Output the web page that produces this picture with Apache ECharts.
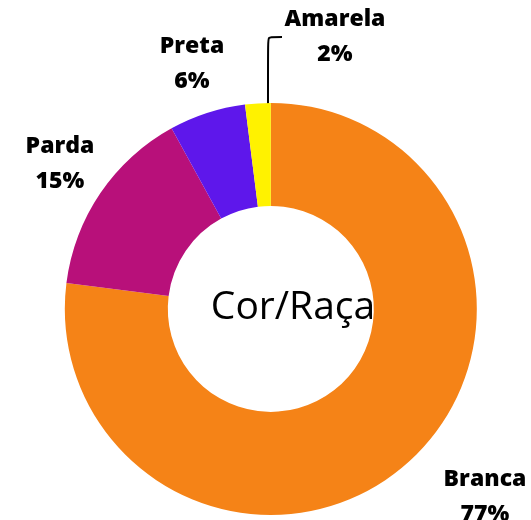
<!DOCTYPE html>
<html>
<head>
<meta charset="utf-8">
<script src="https://cdn.jsdelivr.net/npm/echarts@6/dist/echarts.min.js"></script>
<style>
  html, body { margin: 0; padding: 0; background: #fff; }
  #chart { width: 531px; height: 520px; }
</style>
</head>
<body>
<div id="chart"></div>
<script>
const categories = ['Branca', 'Parda', 'Preta', 'Amarela'];
const values = [77, 15, 6, 2];
const colors = ['#f58317', '#b8107a', '#5e17eb', '#fff200'];

// posição dos rótulos (centro do bloco de texto)
const labelPos = [
  [485, 497],
  [60, 164],
  [192, 64],
  [335, 37]
];

const chart = echarts.init(document.getElementById('chart'));

const data = categories.map((name, i) => ({
  name,
  value: values[i],
  itemStyle: { color: colors[i] },
  labelLine: { show: i === 3 }
}));

chart.setOption({
  animation: false,
  title: {
    text: 'Cor/Raça',
    left: 288,
    top: 283,
    textAlign: 'center',
    textStyle: {
      fontFamily: 'Open Sans',
      fontWeight: 'normal',
      fontSize: 39,
      color: '#000'
    }
  },
  series: [{
    type: 'pie',
    center: ['51%', '59.4%'],
    radius: [103, 206],
    startAngle: 90,
    clockwise: true,
    data,
    label: {
      show: true,
      position: 'outside',
      formatter: '{b}\n{c}%',
      fontFamily: 'Open Sans',
      fontWeight: 800,
      fontSize: 23,
      lineHeight: 35,
      color: '#000',
      align: 'center',
      overflow: 'none',
      width: 200
    },
    labelLine: {
      show: true,
      lineStyle: { color: '#000', width: 2 },
      smooth: 0.15
    },
    labelLayout: function (params) {
      const p = labelPos[params.dataIndex];
      const res = { x: p[0], y: p[1], align: 'center', verticalAlign: 'middle' };
      if (params.dataIndex === 3 && params.labelLinePoints) {
        const s = params.labelLinePoints[0];
        res.labelLinePoints = [[268, s[1] + 2], [268, 37], [282, 37]];
      }
      return res;
    }
  }]
});
</script>
</body>
</html>
